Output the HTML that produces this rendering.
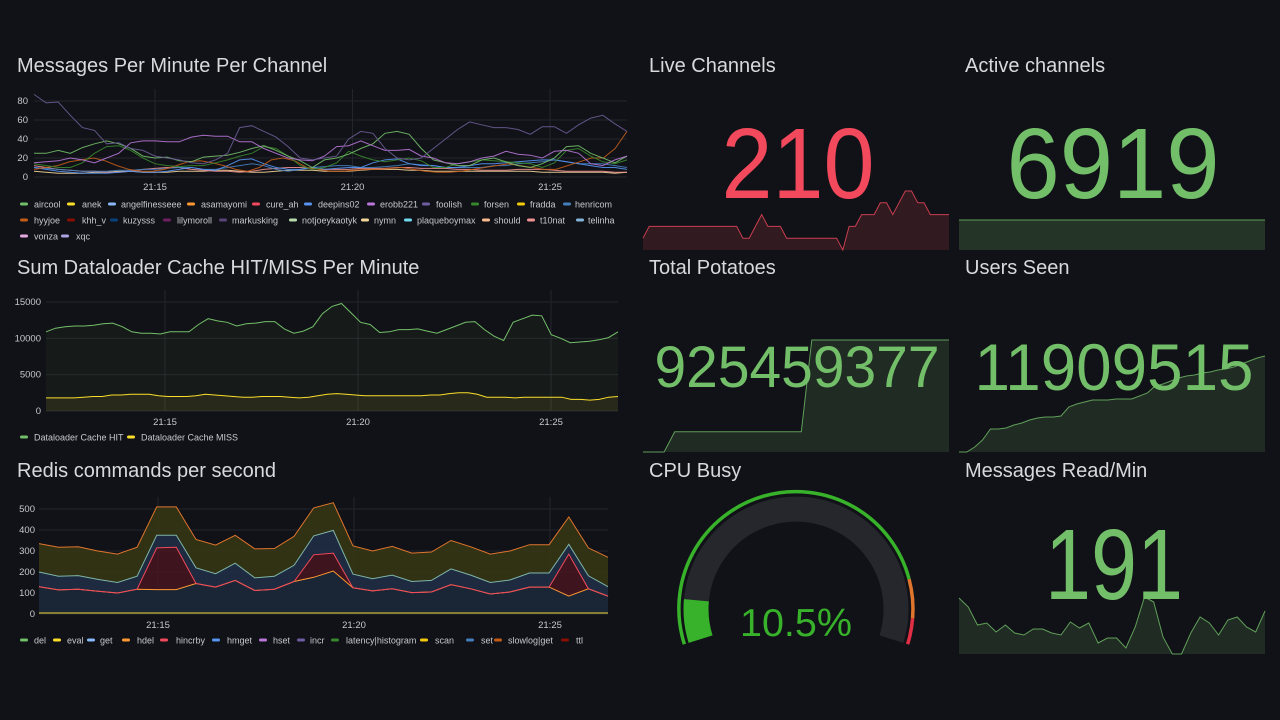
<!DOCTYPE html>
<html><head><meta charset="utf-8"><style>
html,body{margin:0;padding:0;background:#111217;width:1280px;height:720px;overflow:hidden;font-family:"Liberation Sans",sans-serif}
svg{display:block}
.t{fill:#d8d9dc;font-size:20px}
.tk{fill:#c7c8cd;font-size:9.5px}
.lg{fill:#c7c8cd;font-size:9px}
</style></head><body>
<svg id="s" width="1280" height="720" viewBox="0 0 1280 720">
<text class="t" x="17" y="72">Messages Per Minute Per Channel</text>
<text class="t" x="17" y="274">Sum Dataloader Cache HIT/MISS Per Minute</text>
<text class="t" x="17" y="477">Redis commands per second</text>
<text class="t" x="649" y="72">Live Channels</text>
<text class="t" x="965" y="72">Active channels</text>
<text class="t" x="649" y="274">Total Potatoes</text>
<text class="t" x="965" y="274">Users Seen</text>
<text class="t" x="649" y="477">CPU Busy</text>
<text class="t" x="965" y="477">Messages Read/Min</text>
<g id="g"></g>
</svg>
<script>
// ---------- data ----------
var timeTicks=[15,20,25];
var timeTickLabels=["21:15","21:20","21:25"];
// chart 1
var c1Ticks=[0,20,40,60,80];
var c1Names=["aircool","anek","angelfinesseee","asamayomi","cure_ah","deepins02","erobb221","foolish","forsen","fradda","henricom","hyyjoe","khh_v","kuzysss","lilymoroll","markusking","notjoeykaotyk","nymn","plaqueboymax","should","t10nat","telinha","vonza","xqc"];
var c1Colors=["#73bf69","#fade2a","#8ab8ff","#ff9830","#f2495c","#5794f2","#b877d9","#705da0","#37872d","#f2cc0c","#447ebc","#c15c17","#890f02","#0a437c","#6d1f62","#584477","#b7dbab","#f4d598","#70dbed","#f9ba8f","#f29191","#82b5d8","#e5a8e2","#aea2e0"];
var markusking=[87,78,79,65,52,49,35,36,30,28,22,20,18,15,14,18,25,52,54,48,42,32,20,18,20,22,40,48,46,30,20,18,20,30,40,50,58,55,52,52,50,45,53,53,46,55,62,65,56,48];
var erobb=[15,16,17,20,18,15,20,25,36,38,38,37,37,42,44,43,43,37,37,30,25,20,18,17,22,32,33,38,33,28,28,29,22,20,15,14,16,20,22,27,24,23,20,27,28,25,14,12,18,22];
var aircool=[25,25,28,25,31,35,38,35,30,22,20,21,17,16,21,22,23,26,30,33,28,22,17,10,18,20,24,30,35,46,48,45,30,18,15,12,12,18,20,16,12,10,14,20,32,33,25,20,15,22];
var forsen=[14,12,10,10,15,25,32,33,28,20,14,12,11,12,12,15,18,22,25,32,30,22,12,8,10,15,27,22,18,16,18,20,17,10,10,14,16,18,17,16,15,14,10,15,28,30,22,16,14,18];
var hyyjoe=[8,10,12,16,18,20,17,12,8,6,6,8,12,16,17,15,12,8,6,10,18,20,17,10,8,6,6,7,8,8,9,10,8,6,5,5,6,8,10,12,14,12,10,8,8,12,16,20,20,30,48];
var deepins=[10,8,6,5,4,4,4,5,6,5,5,6,8,10,8,7,12,18,19,14,10,8,8,10,8,9,10,10,15,18,19,14,12,12,10,10,12,14,14,15,16,17,18,18,16,14,12,10,10,8];
var henricom=[10,9,8,7,6,6,6,7,7,8,8,9,10,10,8,8,10,12,14,12,8,6,8,10,11,12,12,10,10,11,12,14,13,12,10,10,10,10,12,12,14,15,16,18,16,14,14,14,12,10];
var flat1=[6,5,4,4,4,5,5,6,6,5,5,5,6,6,6,7,7,6,5,5,6,7,7,7,6,6,6,7,8,8,8,7,7,6,6,6,6,6,6,6,6,6,5,5,5,5,5,5,4,5];
var flat2=[12,10,8,7,6,6,5,5,6,8,9,10,10,8,7,6,6,5,6,8,9,10,10,9,8,8,8,9,9,9,10,10,9,9,9,8,8,7,7,7,8,8,8,7,6,6,6,6,5,5];
// chart 2
var c2Ticks=[0,5000,10000,15000];
var cacheHit=[10900,11400,11600,11700,11700,11800,12000,12100,11600,10900,10700,10700,10600,10900,10900,10900,11900,12700,12400,12200,11700,12000,12100,12300,12300,11300,10700,11000,11600,13400,14400,14800,13500,12200,11900,10800,10900,11200,11200,11300,11000,10700,11200,11700,12200,12300,11200,10300,9700,12200,12700,13200,13100,10500,10000,9400,9500,9600,9800,10100,10900];
var cacheMiss=[1800,1800,1800,1800,1900,2000,2000,2200,2200,2300,2300,2300,2100,2000,2000,2000,2100,2300,2200,2100,2000,1900,1900,2000,2000,2000,1900,1800,1900,2100,2300,2400,2300,2200,2100,2100,2100,2100,2100,2100,2100,2200,2200,2400,2500,2500,2300,1900,1900,1900,1800,1900,1900,1900,1900,1900,1600,1600,1500,1600,1900,2000];
// chart 3 (cumulative stack levels)
var c3Ticks=[0,100,200,300,400,500];
var redisBase=[130,115,118,108,100,118,116,116,145,128,160,112,118,155,175,205,125,110,120,102,105,140,120,95,105,128,128,85,120,85];
var redisHincrby=[130,115,118,108,100,118,315,318,145,128,160,112,118,155,282,290,125,110,120,102,105,140,120,95,105,128,128,285,120,85];
var redisGet=[200,180,183,165,150,180,375,375,220,192,242,172,180,232,372,398,190,168,185,155,160,215,185,150,162,195,195,332,182,130];
var redisTop=[335,318,320,300,285,318,510,510,355,328,375,310,312,370,505,530,325,300,322,290,295,350,320,285,300,330,330,462,315,270];
var c3Legend=["del","eval","get","hdel","hincrby","hmget","hset","incr","latency|histogram","scan","set","slowlog|get","ttl"];
var c3Colors=["#73bf69","#fade2a","#8ab8ff","#ff9830","#f2495c","#5794f2","#b877d9","#705da0","#37872d","#f2cc0c","#447ebc","#c15c17","#890f02"];
// stats
var liveChannels=[199,203,203,203,203,203,203,203,203,203,203,203,203,203,203,203,199,199,203,207,203,203,203,199,199,199,199,199,199,199,199,199,195,203,203,207,207,207,211,211,207,211,215,215,211,211,207,207,207,207];
var activeChannels=[6919,6919,6919,6919,6919,6919,6919,6919,6919,6919];
var potatoes=[925440000,925440000,925440000,925443500,925443500,925443500,925443500,925443500,925443500,925443500,925443500,925443500,925443500,925443500,925443500,925443500,925459377,925459377,925459377,925459377,925459377,925459377,925459377,925459377,925459377,925459377,925459377,925459377,925459377,925459377];
var usersSeen=[11717,11717,11727,11741,11763,11763,11765,11771,11775,11781,11785,11787,11787,11789,11807,11813,11817,11821,11821,11821,11823,11823,11823,11829,11835,11849,11853,11859,11865,11869,11871,11875,11877,11881,11883,11887,11893,11899,11905,11909];
var msgRead=[206,197,179,181,172,179,171,169,175,175,171,169,182,176,181,161,166,166,156,177,207,202,167,150,150,171,187,181,169,184,187,177,172,193];
var cpuBusy=10.5;

// ---------- helpers ----------
var NS="http://www.w3.org/2000/svg",G=document.getElementById("g");
function mk(tag,attrs,parent){var e=document.createElementNS(NS,tag);for(var k in attrs)e.setAttribute(k,attrs[k]);(parent||G).appendChild(e);return e;}
function pathOf(vals,xf,yf){var d="";for(var i=0;i<vals.length;i++){d+=(i?"L":"M")+xf(i).toFixed(1)+","+yf(vals[i]).toFixed(1);}return d;}
function areaOf(top,bot,xf,yf){var d=pathOf(top,xf,yf);for(var i=bot.length-1;i>=0;i--)d+="L"+xf(i).toFixed(1)+","+yf(bot[i]).toFixed(1);return d+"Z";}

function axes(name,x0,x1,yf,ticks,x15,ppm,tickY,labelX){
  for(var i=0;i<ticks.length;i++){
    var y=yf(ticks[i]);
    var gl=mk("line",{x1:x0,x2:x1,y1:y,y2:y,stroke:"#22252b","stroke-width":1});
    
    
    var tl=mk("text",{x:labelX,y:y+3,"text-anchor":"end","class":"tk"});tl.textContent=ticks[i];
    
    
  }
  for(var j=0;j<timeTicks.length;j++){
    var x=x15+(timeTicks[j]-15)*ppm;
    var vl=mk("line",{x1:x,x2:x,y1:yf(ticks[ticks.length-1])-12,y2:yf(0),stroke:"#22252b","stroke-width":1});
    
    
    var xl=mk("text",{x:x,y:tickY,"text-anchor":"middle","class":"tk"});xl.textContent=timeTickLabels[j];
    
    
  }
}
function legendItem(name,label,color,lx,tx,y){
  var l=mk("rect",{x:lx,y:y-1.5,width:8,height:3,rx:1.5,fill:color});
  
  
  var t=mk("text",{x:tx,y:y+3.5,"class":"lg"});t.textContent=label;
  
  
}

// ---------- chart 1 ----------
(function(){
  var x0=34,x1=627,y0=177,k=76/80;
  function yf(v){return y0-v*k;}
  axes("messages-chart",x0,x1,yf,c1Ticks,155,39.5,190,28);
  var series=[[flat1,"#f4d598"],[flat2,"#f29191"],[henricom,"#447ebc"],[deepins,"#5794f2"],[hyyjoe,"#c15c17"],[forsen,"#37872d"],[aircool,"#73bf69"],[erobb,"#b877d9"],[markusking,"#6b5c95"]];
  series.forEach(function(s){
    var n=s[0].length;
    function xf(i){return x0+i*(x1-x0)/(n-1);}
    var p=mk("path",{d:pathOf(s[0],xf,yf),fill:"none",stroke:s[1],"stroke-width":1,"stroke-opacity":0.9});
    
    
  });
  var row1=[[20,34],[67,82],[108,121],[187,201],[252,266],[304,318],[367,380],[422,436],[471,484],[517,530],[563,575]];
  var row2=[[20,34],[67,82],[110,123],[163,177],[219,232],[289,302],[361,374],[404,417],[482,494],[527,540],[576,588]];
  var row3=[[20,34],[61,76]];
  var pos=row1.concat(row2,row3);
  for(var i=0;i<c1Names.length;i++){
    var y=i<11?204:(i<22?220:236);
    legendItem("channel-"+c1Names[i],c1Names[i],c1Colors[i],pos[i][0],pos[i][1],y);
  }
})();

// ---------- chart 2 ----------
(function(){
  var x0=46,x1=618,y0=411,k=109/15000;
  function yf(v){return y0-v*k;}
  axes("cache-chart",x0,x1,yf,c2Ticks,165,38.6,425,41);
  var zero=cacheHit.map(function(){return 0;});
  function xf(i){return x0+i*(x1-x0)/(cacheHit.length-1);}
  function xm(i){return x0+i*(x1-x0)/(cacheMiss.length-1);}
  var a=mk("path",{d:areaOf(cacheHit,zero,xf,yf),fill:"#73bf69","fill-opacity":0.05});
  
  
  var l=mk("path",{d:pathOf(cacheHit,xf,yf),fill:"none",stroke:"#73bf69","stroke-width":1});
  
  
  var z2=cacheMiss.map(function(){return 0;});
  var a2=mk("path",{d:areaOf(cacheMiss,z2,xm,yf),fill:"#fade2a","fill-opacity":0.08});
  
  
  var l2=mk("path",{d:pathOf(cacheMiss,xm,yf),fill:"none",stroke:"#fade2a","stroke-width":1});
  
  
  legendItem("cache-hit","Dataloader Cache HIT","#73bf69",20,34,437);
  legendItem("cache-miss","Dataloader Cache MISS","#fade2a",127,141,437);
})();

// ---------- chart 3 ----------
(function(){
  var x0=39,x1=608,y0=614,k=105/500;
  function yf(v){return y0-v*k;}
  axes("redis-chart",x0,x1,yf,c3Ticks,158,39.2,628,35);
  function xf(i){return x0+i*(x1-x0)/(redisTop.length-1);}
  var zero=redisBase.map(function(){return 0;});
  var layers=[[redisTop,redisGet,"#3a3a14",0.8,"redis-slowlog-area"],[redisGet,redisHincrby,"#1f2e44",0.9,"redis-get-area"],[redisHincrby,redisBase,"#4a1520",0.8,"redis-hincrby-area"],[redisBase,zero,"#1a2535",1,"redis-set-area"]];
  layers.forEach(function(L){
    var a=mk("path",{d:areaOf(L[0],L[1],xf,yf),fill:L[2],"fill-opacity":L[3]});
    
    
  });
  var lines=[[redisBase,"#ff9830","redis-base-line"],[redisHincrby,"#f2495c","redis-hincrby-line"],[redisGet,"#7fb5a8","redis-get-line"],[redisTop,"#e0752d","redis-slowlog-line"]];
  lines.forEach(function(L){
    var p=mk("path",{d:pathOf(L[0],xf,yf),fill:"none",stroke:L[1],"stroke-width":1});
    
    
  });
  var zl=mk("line",{x1:x0,x2:x1,y1:y0-1,y2:y0-1,stroke:"#c7b530","stroke-width":1.2});
  
  
  var pos=[[20,34],[53,67],[87,100],[122,137],[160,176],[212,227],[259,273],[297,310],[331,346],[420,435],[466,481],[494,508],[561,576]];
  for(var i=0;i<c3Legend.length;i++)legendItem("redis-"+c3Legend[i].replace("|","-"),c3Legend[i],c3Colors[i],pos[i][0],pos[i][1],640);
})();

// ---------- stat sparklines ----------
function spark(name,vals,x0,x1,ybase,ymin,vmin,vmax,color,fillOp){
  function xf(i){return x0+i*(x1-x0)/(vals.length-1);}
  function yf(v){return vmax===vmin?ymin:ybase-(v-vmin)/(vmax-vmin)*(ybase-ymin);}
  var d=pathOf(vals,xf,yf)+"L"+x1+","+ybase+"L"+x0+","+ybase+"Z";
  var a=mk("path",{d:d,fill:color,"fill-opacity":fillOp});
  
  
  var l=mk("path",{d:pathOf(vals,xf,yf),fill:"none",stroke:color,"stroke-width":1,"stroke-opacity":0.8});
  
  
}
function bigText(name,txt,x,y,size,len,color){
  var t=mk("text",{x:x,y:y,"text-anchor":"middle","font-size":size,fill:color,textLength:len,lengthAdjust:"spacingAndGlyphs"});
  t.textContent=txt;
  
  
}
spark("live-channels",liveChannels,643,949,250,191,195,215,"#f2495c",0.15);
spark("active-channels",activeChannels,959,1265,250,220,6919,6919,"#73bf69",0.2);
spark("total-potatoes",potatoes,643,949,452,340,925440000,925459377,"#73bf69",0.15);
spark("users-seen",usersSeen,959,1265,452,356,11717,11909,"#73bf69",0.15);
spark("messages-read",msgRead,959,1265,654,597,150,207,"#73bf69",0.15);
bigText("live-channels-value","210",798,198,100,153,"#f2495c");
bigText("active-channels-value","6919",1113,198,100,213,"#73bf69");
bigText("total-potatoes-value","925459377",797,387,58,285,"#73bf69");
bigText("users-seen-value","11909515",1114,390,66,279,"#73bf69");
bigText("messages-read-value","191",1114,599,100,138,"#73bf69");

// ---------- gauge ----------
(function(){
  var cx=796,cy=609,a0=197.5,sweep=215;
  function pt(r,p){var a=(a0-sweep*p)*Math.PI/180;return [cx+r*Math.cos(a),cy-r*Math.sin(a)];}
  function arc(r,p0,p1){var s=pt(r,p0),e=pt(r,p1),large=(p1-p0)*sweep>180?1:0;return "M"+s[0].toFixed(1)+","+s[1].toFixed(1)+"A"+r+","+r+" 0 "+large+" 1 "+e[0].toFixed(1)+","+e[1].toFixed(1);}
  var tr=mk("path",{d:arc(100,0,1),fill:"none",stroke:"#25272c","stroke-width":25});
  
  
  var v=mk("path",{d:arc(100,0,cpuBusy/100),fill:"none",stroke:"#37b22a","stroke-width":25});
  
  
  var th=[[0,0.85,"#37b22a"],[0.85,0.94,"#e0752d"],[0.94,1,"#e02f44"]];
  th.forEach(function(t){
    var p=mk("path",{d:arc(117,t[0],t[1]),fill:"none",stroke:t[2],"stroke-width":3.5});
    
    
  });
  bigText("cpu-busy-value",cpuBusy+"%",796,636,39,112,"#37b22a");
})();
</script>
</body></html>
